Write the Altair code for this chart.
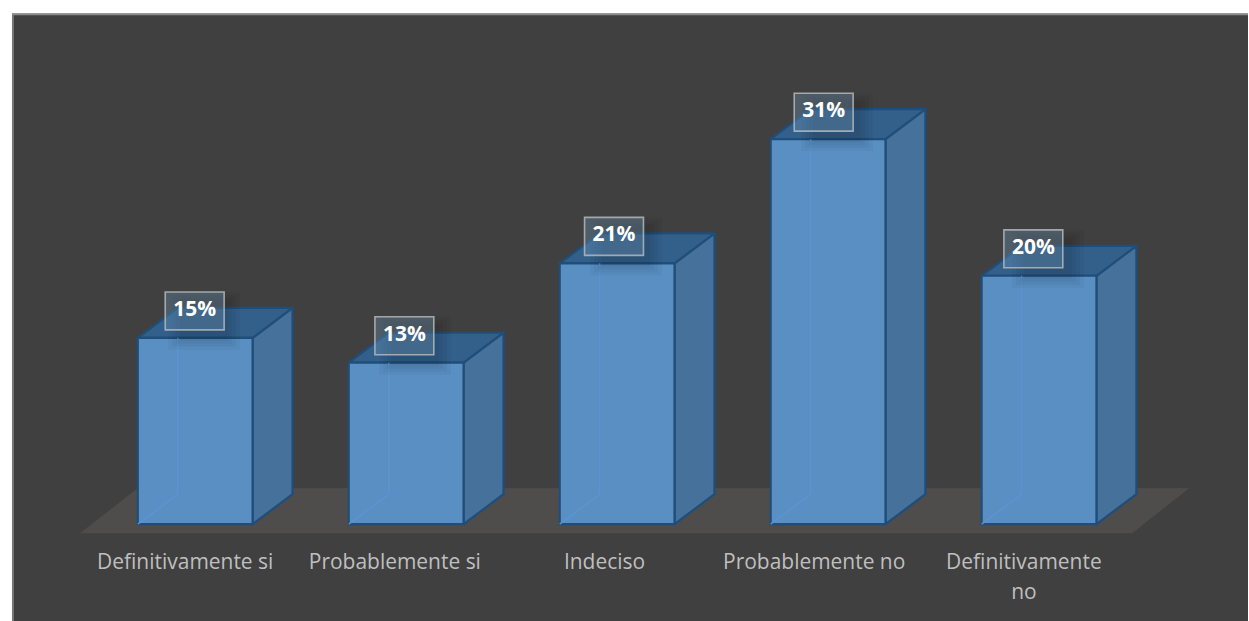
import altair as alt
import pandas as pd

categories = ["Definitivamente si", "Probablemente si", "Indeciso", "Probablemente no", "Definitivamente\nno"]
shares = [15, 13, 21, 31, 20]

# Plot geometry, in pixels of the plot area
W, H = 1238, 609
STEP, BAR = 211.3, 115.0
FIRST_CENTER = 183.5
BASE = 511.5
PER_UNIT = 12.44
DX, DY = 40.0, 30.0

ux = lambda px: px / STEP
uy = lambda px: px / PER_UNIT

x_scale = alt.Scale(domain=[-FIRST_CENTER / STEP, (W - FIRST_CENTER) / STEP], nice=False, zero=False)
y_scale = alt.Scale(domain=[-(H - BASE) / PER_UNIT, BASE / PER_UNIT], nice=False, zero=False)
X = lambda f: alt.X(f, type="quantitative", scale=x_scale, axis=None)
Y = lambda f: alt.Y(f, type="quantitative", scale=y_scale, axis=None)
X2 = lambda f: alt.X2(f)
Y2 = lambda f: alt.Y2(f)

half, dx, dy = ux(BAR / 2), ux(DX), uy(DY)

front_rows, side_rows, top_rows, edge_rows = [], [], [], []
for i, (c, v) in enumerate(zip(categories, shares)):
    l, r = i - half, i + half
    front_rows.append(dict(i=i, cat=c, v=v, l=l, r=r, zero=0,
                           bx=ux(210 * i - 0.5), box=v + uy(27),
                           gx=i + ux(9), gy=v + uy(17),
                           label=f"{v}%", cx=ux(210 * i - 10), ly=-uy(39)))
    side_rows += [dict(i=i, x=r, y=v, y2=0), dict(i=i, x=r + dx, y=v + dy, y2=dy)]
    top_rows += [dict(i=i, x=l, y=v, y2=v), dict(i=i, x=l + dx, y=v + dy, y2=v),
                 dict(i=i, x=r, y=v + dy, y2=v), dict(i=i, x=r + dx, y=v + dy, y2=v + dy)]
    # Rear corner seen through the translucent front face
    edge_rows += [dict(i=i, x=l, y=0), dict(i=i, x=l + dx, y=dy), dict(i=i, x=l + dx, y=v)]

front = pd.DataFrame(front_rows)
side = pd.DataFrame(side_rows)
top = pd.DataFrame(top_rows)
edge = pd.DataFrame(edge_rows)

# Floor plane under the bars
fy0, fy1 = -uy(9), uy(36)
fx = [ux(79 - 11 - FIRST_CENTER), ux(137 - 11 - FIRST_CENTER), ux(1133 - 11 - FIRST_CENTER), ux(1190 - 11 - FIRST_CENTER)]
floor = pd.DataFrame([dict(x=fx[0], y=fy0, y2=fy0), dict(x=fx[1], y=fy1, y2=fy0),
                      dict(x=fx[2], y=fy1, y2=fy0), dict(x=fx[3], y=fy1, y2=fy1)])

STROKE = "#1f4e7a"

floor_l = alt.Chart(floor).mark_area(color="#4f4c4c").encode(x=X("x"), y=Y("y"), y2=Y2("y2"))

side_l = alt.Chart(side).mark_area(fill="#46719a", stroke=STROKE, strokeWidth=2.2, strokeJoin="round").encode(
    x=X("x"), y=Y("y"), y2=Y2("y2"), detail="i:N")
top_l = alt.Chart(top).mark_area(fill="#33608a", stroke=STROKE, strokeWidth=2.2, strokeJoin="round").encode(
    x=X("x"), y=Y("y"), y2=Y2("y2"), detail="i:N")
front_l = alt.Chart(front).mark_rect(fill="#5a8fc3", stroke=STROKE, strokeWidth=2.2).encode(
    x=X("l"), x2=X2("r"), y=Y("v"), y2=Y2("zero"))
edge_l = alt.Chart(edge).mark_line(color="#5b96d2", strokeWidth=1.4, opacity=0.9).encode(
    x=X("x"), y=Y("y"), detail="i:N", order="x:Q")

# Soft shadow behind each value box, built from nested translucent rectangles
shadow_layers = [
    alt.Chart(front).mark_rect(width=w, height=h, fill="#000000", fillOpacity=0.035).encode(x=X("gx"), y=Y("gy"))
    for w, h in [(72, 58), (64, 52), (56, 46), (48, 40)]
]

box_l = alt.Chart(front).mark_rect(width=59, height=38, fill="#6d94b8", fillOpacity=0.35,
                                   stroke="#b4b8bc", strokeOpacity=0.85, strokeWidth=1.6).encode(
    x=X("bx"), y=Y("box"))
value_l = alt.Chart(front).mark_text(font="Open Sans", fontWeight="bold", fontSize=21, color="#ffffff",
                                     align="center", baseline="middle", dy=-1).encode(
    x=X("bx"), y=Y("box"), text="label:N")
cat_l = alt.Chart(front).mark_text(font="Open Sans", fontSize=21, color="#bfbfbf", align="center",
                                   baseline="middle", lineBreak="\n", lineHeight=30).encode(
    x=X("cx"), y=Y("ly"), text="cat:N")

# Frame along the top and left edges of the panel
frame_top = alt.Chart(front.head(1)).mark_rule(color="#8a8a8a", strokeWidth=1.5).encode(
    x=alt.value(0), x2=alt.value(W), y=alt.value(1))
frame_left = alt.Chart(front.head(1)).mark_rule(color="#8a8a8a", strokeWidth=1.5).encode(
    x=alt.value(1), y=alt.value(0), y2=alt.value(H))

chart = (
    alt.layer(floor_l, side_l, top_l, front_l, edge_l, *shadow_layers, box_l, value_l, cat_l, frame_top, frame_left)
    .properties(width=W, height=H, background="#ffffff",
                padding={"left": 11, "top": 12, "right": 0, "bottom": 0})
    .configure_view(fill="#404040", strokeWidth=0)
)

chart.save("out.html", embed_options={"renderer": "svg", "actions": False})
